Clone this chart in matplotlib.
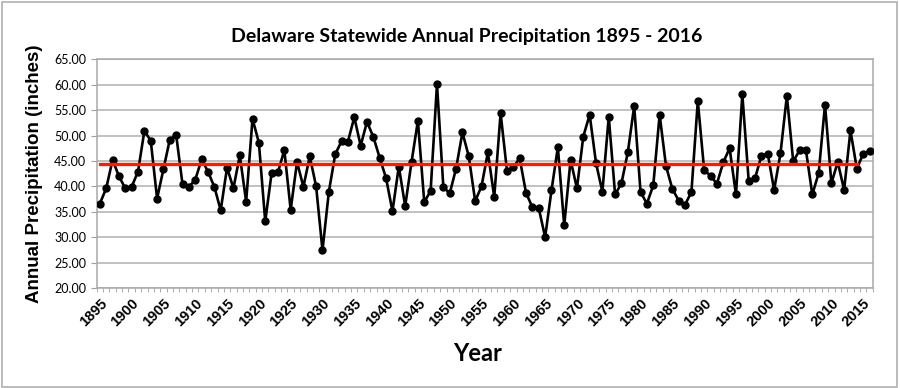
import matplotlib as mpl

mpl.use("Agg")
import matplotlib.pyplot as plt
import numpy as np

plt.rcParams["font.family"] = ["Lato", "DejaVu Sans"]

years = list(range(1895, 2017))
precip = [
    36.6, 39.6, 45.2, 42.0, 39.6, 39.9, 42.9, 50.9, 49.0, 37.6,  # 1895-1904
    43.4, 49.2, 50.1, 40.4, 39.9, 41.3, 45.3, 42.9, 39.9, 35.3,  # 1905-1914
    43.7, 39.6, 46.1, 37.0, 53.3, 48.6, 33.1, 42.6, 42.8, 47.1,  # 1915-1924
    35.4, 44.8, 39.9, 45.9, 40.0, 27.4, 38.9, 46.3, 48.9, 48.8,  # 1925-1934
    53.6, 48.0, 52.7, 49.7, 45.6, 41.6, 35.1, 43.9, 36.1, 44.8,  # 1935-1944
    52.9, 36.9, 39.1, 60.1, 39.9, 38.6, 43.5, 50.6, 45.9, 37.1,  # 1945-1954
    40.0, 46.7, 37.9, 54.4, 43.1, 43.8, 45.5, 38.7, 35.9, 35.7,  # 1955-1964
    30.0, 39.2, 47.7, 32.3, 45.2, 39.6, 49.8, 54.1, 44.6, 38.9,  # 1965-1974
    53.7, 38.4, 40.6, 46.7, 55.8, 38.9, 36.6, 40.2, 54.1, 44.0,  # 1975-1984
    39.5, 37.2, 36.4, 38.9, 56.8, 43.2, 42.1, 40.5, 44.7, 47.5,  # 1985-1994
    38.4, 58.1, 41.1, 41.6, 46.0, 46.4, 39.3, 46.5, 57.8, 44.9,  # 1995-2004
    47.1, 47.1, 38.4, 42.6, 56.1, 40.6, 44.8, 39.3, 51.0, 43.5,  # 2005-2014
    46.4, 47.0,                                                  # 2015-2016
]
mean_value = 44.4
mean_end_year = 2014

fig = plt.figure(figsize=(9, 3.88), dpi=100)
ax = fig.add_axes([0.1074, 0.2577, 0.8623, 0.5895])

x = np.arange(len(years))
n_mean = years.index(mean_end_year) + 1
ax.plot(x, precip, color="black", lw=1.9, marker="o", ms=5, zorder=3)
ax.plot(x[:n_mean], [mean_value] * n_mean, color="#ff1a00", lw=2.3, zorder=4)

ax.set_xlim(-0.5, len(years) - 0.5)
ax.set_ylim(20, 65)
ax.set_yticks(np.arange(20, 65.1, 5))
ax.set_yticklabels([f"{v:.2f}" for v in np.arange(20, 65.1, 5)], fontsize=9)
ax.yaxis.grid(True, color="#b0b0b0", lw=1.1)
ax.set_axisbelow(True)

label_idx = [i for i, y in enumerate(years) if (y - 1895) % 5 == 0]
ax.set_xticks(label_idx)
ax.set_xticklabels([str(years[i]) for i in label_idx], rotation=45, ha="right",
                   rotation_mode="anchor", fontsize=10.5, fontweight="bold",
                   family=["Liberation Sans", "DejaVu Sans"])
ax.tick_params(axis="x", length=0, pad=6)
ax.set_xticks(np.arange(-0.5, len(years)), minor=True)
ax.tick_params(axis="x", which="minor", length=3, color="#a0a0a0")
ax.tick_params(axis="y", length=4, color="#a0a0a0")

for s in ax.spines.values():
    s.set_color("#a8a8a8")
    s.set_linewidth(1.1)

ax.set_ylabel("Annual Precipitation (inches)", fontsize=13.5, fontweight="bold",
              family=["Liberation Sans", "DejaVu Sans"], labelpad=8)
ax.set_xlabel("Year", fontsize=17, fontweight="bold")
ax.xaxis.set_label_coords(0.491, -0.235)
fig.text(0.518, 0.905, "Delaware Statewide Annual Precipitation 1895 - 2016",
         ha="center", va="center", fontsize=14, fontweight="bold")

fig.patches.append(plt.Rectangle((0.002, 0.003), 0.995, 0.993, transform=fig.transFigure,
                                 fill=False, edgecolor="#b0b0b0", lw=1.2))

plt.savefig("out.png", dpi=100)
plt.close()
